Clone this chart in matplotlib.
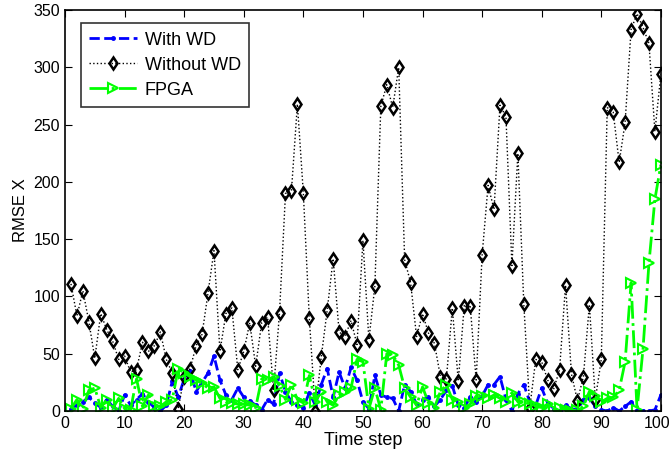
import numpy as np
import matplotlib
matplotlib.use("Agg")
import matplotlib.pyplot as plt
from matplotlib.transforms import ScaledTranslation

plt.rcParams['font.family'] = ['Liberation Sans', 'DejaVu Sans']

# time steps 1..100
t = np.arange(1, 101)

with_wd = [2, 5, 8, 12, 7, 3, 10, 4, 0, 14,
           5, 10, 15, 8, 3, 0, 5, 26, 12, 28,
           35, 17, 25, 33, 48, 27, 14, 10, 20, 12,
           9, 5, 1, 10, 6, 33, 17, 8, 5, 3,
           16, 5, 23, 37, 12, 34, 20, 38, 27, 8,
           2, 31, 14, 12, 11, 0, 23, 17, 6, 10,
           12, 4, 10, 18, 22, 5, 3, 12, 8, 13,
           23, 23, 30, 10, 0, 15, 23, 8, 5, 20,
           7, 2, 0, 5, 2, 1, 10, 11, 4, 1,
           0, 3, 0, 4, 8, 0, 0, 0, 1, 14]

without_wd = [111, 83, 105, 78, 46, 85, 71, 61, 45, 48,
              34, 36, 60, 52, 57, 69, 45, 33, 2, 30,
              37, 57, 67, 103, 140, 52, 85, 90, 36, 52,
              77, 39, 77, 82, 18, 86, 190, 192, 268, 190,
              81, 0, 47, 88, 133, 69, 65, 79, 58, 149,
              62, 109, 266, 285, 265, 300, 132, 112, 65, 85,
              68, 59, 30, 28, 90, 26, 92, 92, 27, 136,
              197, 176, 267, 257, 127, 225, 93, 3, 45, 43,
              27, 19, 36, 110, 32, 9, 30, 93, 10, 45,
              265, 261, 217, 252, 333, 347, 335, 321, 244, 294]

fpga = [2, 10, 2, 18, 20, 3, 10, 2, 11, 2,
        1, 28, 4, 14, 4, 4, 8, 10, 37, 33,
        30, 27, 24, 20, 21, 11, 8, 7, 6, 6,
        5, 3, 28, 27, 30, 22, 10, 23, 10, 7,
        31, 8, 17, 8, 5, 14, 17, 20, 45, 43,
        2, 20, 1, 50, 49, 40, 20, 12, 5, 21,
        7, 3, 17, 23, 10, 8, 3, 6, 13, 13,
        11, 14, 11, 8, 16, 8, 8, 6, 4, 3,
        6, 1, 3, 1, 0, 1, 4, 17, 13, 8,
        11, 12, 18, 43, 112, 1, 54, 129, 185, 215]

fig = plt.figure(figsize=(6.71, 4.57), dpi=100)
ax = fig.add_axes([0.0969, 0.1007, 0.888, 0.877])

ax.plot(t, with_wd, '--', color='blue', lw=2, marker='.', ms=5, label='With WD')
ax.plot(t, without_wd, ':', color='black', lw=1, marker='d', ms=6.5, mfc='none',
        mew=1.8, label='Without WD')
ax.plot(t, fpga, '-.', color=(0, 1, 0), lw=2, marker='>', ms=7.5, mfc='none',
        mew=1.5, label='FPGA')

ax.set_xlim(0, 100)
ax.set_ylim(0, 350)
ax.set_xticks(np.arange(0, 101, 10))
ax.set_yticks(np.arange(0, 351, 50))
ax.tick_params(direction='in', top=True, right=True, labelsize=11.5, length=5)
for s in ax.spines.values():
    s.set_linewidth(1.2)
# keep the last x label inside the image
last = ax.get_xticklabels()[-1]
last.set_transform(last.get_transform() + ScaledTranslation(-0.04, 0, fig.dpi_scale_trans))
ax.set_xlabel('Time step', fontsize=13, labelpad=1)
ax.set_ylabel('RMSE X', fontsize=12, labelpad=4)

leg = ax.legend(loc='upper left', bbox_to_anchor=(0.026, 0.967), borderaxespad=0,
                fancybox=False, edgecolor='black', fontsize=13, handlelength=2.7,
                labelspacing=0.45, borderpad=0.45, handletextpad=0.4)
leg.get_frame().set_linewidth(1.2)

fig.savefig('out.png', dpi=100)
